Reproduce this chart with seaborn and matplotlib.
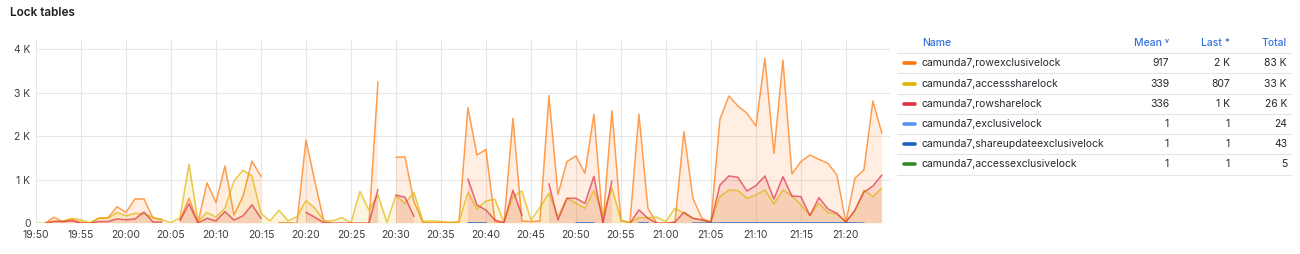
import numpy as np
import pandas as pd
import matplotlib
matplotlib.use("Agg")
import matplotlib.pyplot as plt
import matplotlib.dates as mdates
from matplotlib.lines import Line2D
import seaborn as sns

nan = np.nan

# ---------------- data ----------------
title = "Lock tables"
start_time = "2024-05-01 19:50"
n_points = 95  # one sample per minute, 19:50 .. 21:24

rowexclusivelock = [
    nan, 0, 140, 30, 90, 20, 0, 120, 130, 380,
    250, 560, 560, 120, 90, nan, 80, 575, 15, 930,
    480, 1320, 195, 620, 1430, 1080, nan, 15, 15, 0,
    1915, 950, 40, 0, 0, 0, 0, 0, 3255, nan,
    1517, 1530, 500, 20, 10, 15, 20, 30, 2660, 1570,
    1700, 40, 0, 2415, 50, 40, 50, 2935, 665, 1420,
    1550, 1150, 2510, 0, 2590, 60, 10, 2513, 345, 0,
    0, 25, 2107, 575, 115, 25, 2390, 2927, 2697, 2529,
    2237, 3793, 1609, 3755, 1134, 1418, 1571, 1471, 1379, 1111,
    15, 1034, 1226, 2812, 2069,
]
accesssharelock = [
    0, 0, 40, 55, 115, 80, 15, 115, 115, 250,
    170, 230, 215, 140, 80, 15, 130, 1360, 50, 250,
    140, 350, 970, 1220, 1085, 230, 55, 300, 60, 150,
    520, 345, 60, 60, 130, 10, 730, 305, 650, 25,
    640, 460, 705, 45, 55, 40, 20, 30, 713, 330,
    515, 550, 15, 613, 745, 75, 360, 690, 150, 575,
    460, 345, 750, 190, 810, 77, 15, 130, 130, 140,
    40, 345, 230, 115, 77, 40, 613, 766, 750, 575,
    650, 766, 445, 766, 630, 420, 190, 460, 250, 207,
    40, 268, 766, 613, 807,
]
rowsharelock = [
    nan, 0, 45, 40, 60, 0, 0, 40, 40, 100,
    80, 100, 260, 30, 30, nan, 60, 450, 10, 115,
    55, 270, 75, 170, 425, 115, nan, nan, nan, nan,
    250, 138, 10, 0, 0, 0, 0, 0, 780, nan,
    650, 600, 160, nan, nan, nan, nan, nan, 1020, 420,
    305, 75, 15, 760, 180, nan, nan, 910, 75, 575,
    575, 460, 1080, 15, 973, nan, 0, 307, 115, 0,
    0, 25, 253, 115, 77, 25, 880, 1088, 1057, 743,
    866, 1088, 560, 1073, 628, 613, 176, 590, 330, 230,
    23, 306, 713, 858, 1111,
]
_ones_idx_sue = list(range(48, 51)) + list(range(60, 63)) + [67, 68] + list(range(73, 93))
_ones_idx_ex = list(range(48, 51)) + list(range(60, 63)) + [67, 68] + list(range(76, 92))
shareupdateexclusivelock = [1 if i in _ones_idx_sue else nan for i in range(n_points)]
exclusivelock = [1 if i in _ones_idx_ex else nan for i in range(n_points)]
accessexclusivelock = [1 if i in (20, 30, 40, 50, 60) else nan for i in range(n_points)]

series_names = [
    "camunda7,rowexclusivelock",
    "camunda7,accesssharelock",
    "camunda7,rowsharelock",
    "camunda7,exclusivelock",
    "camunda7,shareupdateexclusivelock",
    "camunda7,accessexclusivelock",
]
series_values = [rowexclusivelock, accesssharelock, rowsharelock,
                 exclusivelock, shareupdateexclusivelock, accessexclusivelock]
series_colors = ["#FF780A", "#E0B400", "#E02F44", "#5794F2", "#1F60C4", "#37872D"]

legend_headers = ["Name", "Mean \u02c5", "Last *", "Total"]
legend_mean = ["917", "339", "336", "1", "1", "1"]
legend_last = ["2 K", "807", "1 K", "1", "1", "1"]
legend_total = ["83 K", "33 K", "26 K", "24", "43", "5"]

y_ticks = [0, 1000, 2000, 3000, 4000]
y_tick_labels = ["0", "1 K", "2 K", "3 K", "4 K"]

# ---------------- build long table ----------------
times = pd.date_range(start_time, periods=n_points, freq="1min")
rows = []
for name, vals in zip(series_names, series_values):
    arr = np.array(vals, dtype=float)
    seg = np.cumsum(np.isnan(arr))
    for t, v, s in zip(times, arr, seg):
        if not np.isnan(v):
            rows.append({"time": t, "value": v, "series": name, "unit": f"{name}#{s}"})
df = pd.DataFrame(rows)

# ---------------- figure ----------------
sns.set_theme(style="white")
plt.rcParams["font.family"] = ["Inter", "DejaVu Sans"]

W, H = 1300, 254
fig = plt.figure(figsize=(W / 100, H / 100), dpi=100)
ax_left, ax_right, ax_top, ax_bottom = 36, 890, 40, 223.3
ax = fig.add_axes([ax_left / W, 1 - ax_bottom / H, (ax_right - ax_left) / W, (ax_bottom - ax_top) / H])

palette = dict(zip(series_names, series_colors))

for name, vals, col in zip(series_names, series_values, series_colors):
    arr = np.array(vals, dtype=float)
    ax.fill_between(times, 0, arr, color=col, alpha=0.12, linewidth=0, zorder=1)

sns.lineplot(data=df, x="time", y="value", hue="series", units="unit",
             estimator=None, sort=False, palette=palette, hue_order=series_names,
             linewidth=1.1, alpha=0.7, legend=False, ax=ax, zorder=3)

ax.set_xlim(times[0], times[0] + pd.Timedelta(minutes=94.9))
ax.set_ylim(0, 4214)
ax.set_yticks(y_ticks)
ax.set_yticklabels(y_tick_labels)
ax.xaxis.set_major_locator(mdates.MinuteLocator(byminute=range(0, 60, 5)))
ax.xaxis.set_major_formatter(mdates.DateFormatter("%H:%M"))
ax.set_xlabel("")
ax.set_ylabel("")
for sp in ax.spines.values():
    sp.set_visible(False)
ax.grid(True, color="#e6e6e6", linewidth=0.8)
ax.set_axisbelow(True)
ax.tick_params(axis="both", length=0, labelsize=7.5, colors="#3d3d3d")
ax.tick_params(axis="x", pad=5)
ax.tick_params(axis="y", pad=4)

# title
fig.text(10 / W, 1 - 13 / H, title, fontsize=8.5, fontweight="semibold",
         color="#1f1f1f", va="center", ha="left")

# legend table
def fy(y):
    return 1 - y / H

x_name, x_mean, x_last, x_total = 922, 1169, 1230, 1287
sep_x0, sep_x1 = 897, 1291
hdr_y = 43.3
row_ys = [63.3, 83.5, 103.7, 124.0, 144.2, 164.4]
sep_ys = [53.0, 73.3, 93.5, 113.8, 134.0, 154.3, 174.6]
hdr_color = "#3871dc"
txt_color = "#24292e"
fs = 7.5

fig.text(x_name / W, fy(hdr_y), legend_headers[0], fontsize=fs, color=hdr_color,
         fontweight="medium", ha="left", va="center")
for xx, lab in zip([x_mean, x_last, x_total], legend_headers[1:]):
    fig.text(xx / W, fy(hdr_y), lab, fontsize=fs, color=hdr_color,
             fontweight="medium", ha="right", va="center")
for sy in sep_ys:
    fig.add_artist(Line2D([sep_x0 / W, sep_x1 / W], [fy(sy), fy(sy)],
                          color="#e4e4e4", linewidth=0.8))
for ry, name, col, m, l, t in zip(row_ys, series_names, series_colors,
                                  legend_mean, legend_last, legend_total):
    fig.add_artist(Line2D([904 / W, 915 / W], [fy(ry), fy(ry)], color=col,
                          linewidth=2.6, solid_capstyle="round"))
    fig.text(x_name / W, fy(ry), name, fontsize=fs, color=txt_color, ha="left", va="center")
    fig.text(x_mean / W, fy(ry), m, fontsize=fs, color=txt_color, ha="right", va="center")
    fig.text(x_last / W, fy(ry), l, fontsize=fs, color=txt_color, ha="right", va="center")
    fig.text(x_total / W, fy(ry), t, fontsize=fs, color=txt_color, ha="right", va="center")

fig.savefig("out.png", dpi=100)
